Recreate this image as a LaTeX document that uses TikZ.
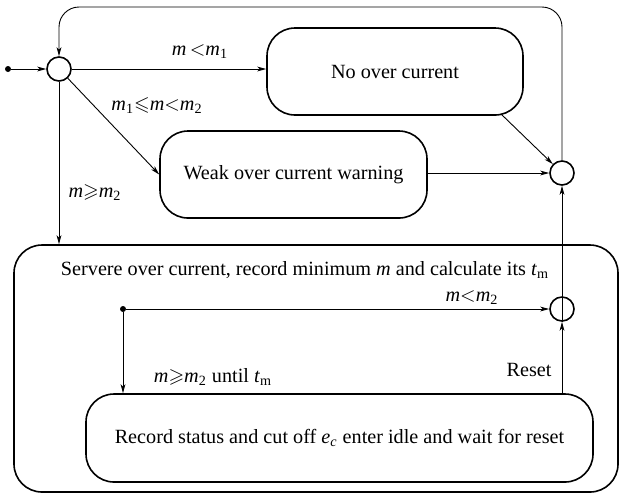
\documentclass[tikz,border=0pt]{standalone}
\usepackage{amssymb}
\usepackage{fontspec}
\setmainfont{Liberation Serif}
\usetikzlibrary{arrows.meta,shapes.misc,calc}
\newcommand{\mv}{\textit{m}}
\begin{document}
\begin{tikzpicture}[x=0.5pt,y=-0.5pt,
  font=\fontsize{10.1}{12}\selectfont,
  conn/.style={line width=0.45pt,-{Stealth[length=4.5pt,width=2.4pt,inset=1.2pt]}},
  junction/.style={circle,draw,line width=0.8pt,minimum size=12pt,inner sep=0pt},
  dot/.style={circle,fill,inner sep=0pt,minimum size=3pt},
  state/.style={draw,line width=0.8pt,rounded corners=14pt,inner sep=0pt,align=center},
  lbl/.style={inner sep=0pt}]
\useasboundingbox (0,0) rectangle (620,495);

% states
\node[state,minimum width=128pt,minimum height=43.5pt] (noc) at (395,71.5) {No over current};
\node[state,minimum width=133.5pt,minimum height=43.5pt] (weak) at (293.5,174.5) {Weak over current warning};
\node[state,minimum width=302pt,minimum height=123.5pt] (big) at (316,368.5) {};
\node[state,minimum width=253.5pt,minimum height=44pt] (rec) at (339.5,438)
  {Record status and cut off \textit{e\textsubscript{c}} enter idle and wait for reset};
\node[lbl] (bigtxt) at (305,270)
  {Servere over current, record minimum \mv{} and calculate its \textit{t}\textsubscript{m}};

% junctions and initial points
\node[dot] (s) at (8,69) {};
\node[junction] (L) at (59,69) {};
\node[junction] (R1) at (562,173) {};
\node[junction] (R2) at (562,309) {};
\node[dot] (d2) at (123,309) {};

% transitions
\draw[conn] (s) -- (L);
\draw[conn] (L) -- (L -| noc.west);
\draw[conn] (L) -- (weak.west);
\draw[conn] (L) -- (L |- big.north);
\draw[conn] ([xshift=-11.5pt,yshift=1pt]noc.south east) -- (R1);
\draw[conn] (weak.east |- R1) -- (R1.west);
\draw[conn,rounded corners=10pt] (R1.north) -- (R1 |- 0,7) -- (L |- 0,7) -- (L.north);
\draw[conn] (R2.south) -- (R1.south);
\draw[conn] (d2) -- (R2.west);
\draw[conn] (d2) -- (d2 |- rec.north);
\draw[conn] (rec.north -| R2) -- (R2.south);

% guards
\node[lbl] at (200,52) {\mv\,$<$\mv\textsubscript{1}};
\node[lbl] at (157,106) {\mv\textsubscript{1}$\leqslant$\mv$<$\mv\textsubscript{2}};
\node[lbl] at (95,193) {\mv$\geqslant$\mv\textsubscript{2}};
\node[lbl] at (472,298) {\mv$<$\mv\textsubscript{2}};
\node[lbl] at (213,377) {\mv$\geqslant$\mv\textsubscript{2} until \textit{t}\textsubscript{m}};
\node[lbl] at (529,370) {Reset};
\end{tikzpicture}
\end{document}
